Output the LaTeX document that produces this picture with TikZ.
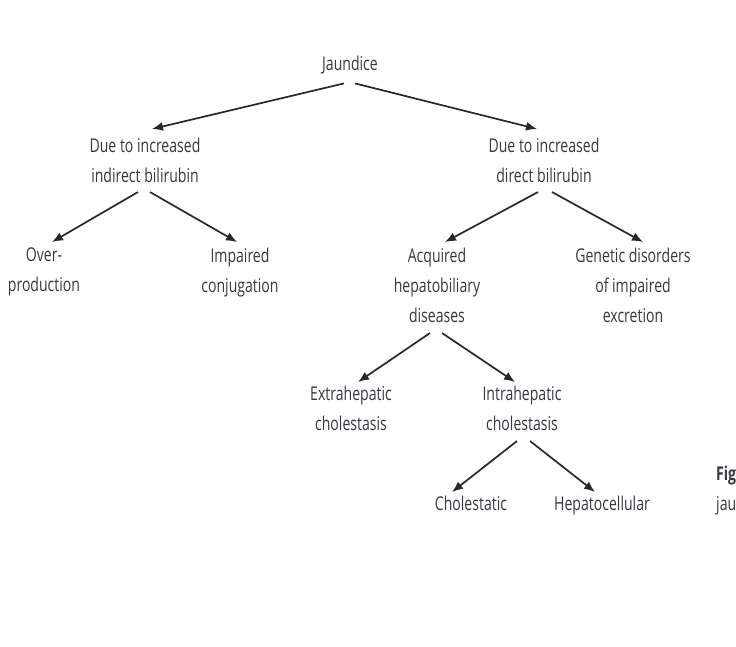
\documentclass[tikz,border=0pt]{standalone}
\usepackage{fontspec}
\setmainfont[FakeStretch=0.74]{Open Sans}
\usetikzlibrary{arrows.meta}
\definecolor{txtgray}{RGB}{55,55,64}
\definecolor{arrgray}{RGB}{40,40,40}
\tikzset{
  every node/.style={font=\fontsize{19}{30}\selectfont, text=txtgray,
    align=center, inner sep=0pt, anchor=north}, % all labels hang from their top
  link/.style={-{Latex[length=11pt,width=9pt]}, line width=1.7pt, draw=arrgray},
}

\begin{document}
\begin{tikzpicture}[x=1pt,y=-1pt]
    \useasboundingbox (0,0) rectangle (736,646);
    \clip (0,0) rectangle (736,646);

    \node (jaundice) at (350,56) {Jaundice};

    \node (indirect) at (145,138) {Due to increased\\indirect bilirubin};
    \node (direct)   at (544,138) {Due to increased\\direct bilirubin};

    \node (overprod) at (44,248)  {Over-\\production};
    \node (impaired) at (240,248) {Impaired\\conjugation};
    \node (acquired) at (437,248) {Acquired\\hepatobiliary\\diseases};
    \node (genetic)  at (633,248) {Genetic disorders\\of impaired\\excretion};

    \node (extra) at (351,386) {Extrahepatic\\cholestasis};
    \node (intra) at (522,386) {Intrahepatic\\cholestasis};

    \node (cholestatic) at (471,496) {Cholestatic};
    \node (hepatocell)  at (602,496) {Hepatocellular};

    % caption cut off at the right edge
    \node[anchor=north west] (fig) at (716,466) {\bfseries Fig};
    \node[anchor=north west] (figtext) at (716,496) {jau};

    \draw[link] ([xshift=-6pt,yshift=-9pt]jaundice.south) -- ([xshift=7pt,yshift=9pt]indirect.north);
    \draw[link] ([xshift=5pt,yshift=-9pt]jaundice.south) -- ([xshift=-7pt,yshift=9pt]direct.north);

    \draw[link] ([xshift=-7pt,yshift=-9pt]indirect.south) -- ([xshift=8pt,yshift=6pt]overprod.north);
    \draw[link] ([xshift=5pt,yshift=-9pt]indirect.south) -- ([xshift=-3pt,yshift=6pt]impaired.north);
    \draw[link] ([xshift=-6pt,yshift=-9pt]direct.south) -- ([xshift=8pt,yshift=6pt]acquired.north);
    \draw[link] ([xshift=8pt,yshift=-9pt]direct.south) -- ([xshift=10pt,yshift=6pt]genetic.north);

    \draw[link] ([xshift=-7pt,yshift=-10pt]acquired.south) -- ([xshift=7pt,yshift=4pt]extra.north);
    \draw[link] ([xshift=5pt,yshift=-10pt]acquired.south) -- ([xshift=-7pt,yshift=4pt]intra.north);

    \draw[link] ([xshift=-5pt,yshift=-10pt]intra.south) -- ([xshift=-19pt,yshift=4pt]cholestatic.north);
    \draw[link] ([xshift=8pt,yshift=-10pt]intra.south) -- ([xshift=-7pt,yshift=4pt]hepatocell.north);
\end{tikzpicture}
\end{document}
